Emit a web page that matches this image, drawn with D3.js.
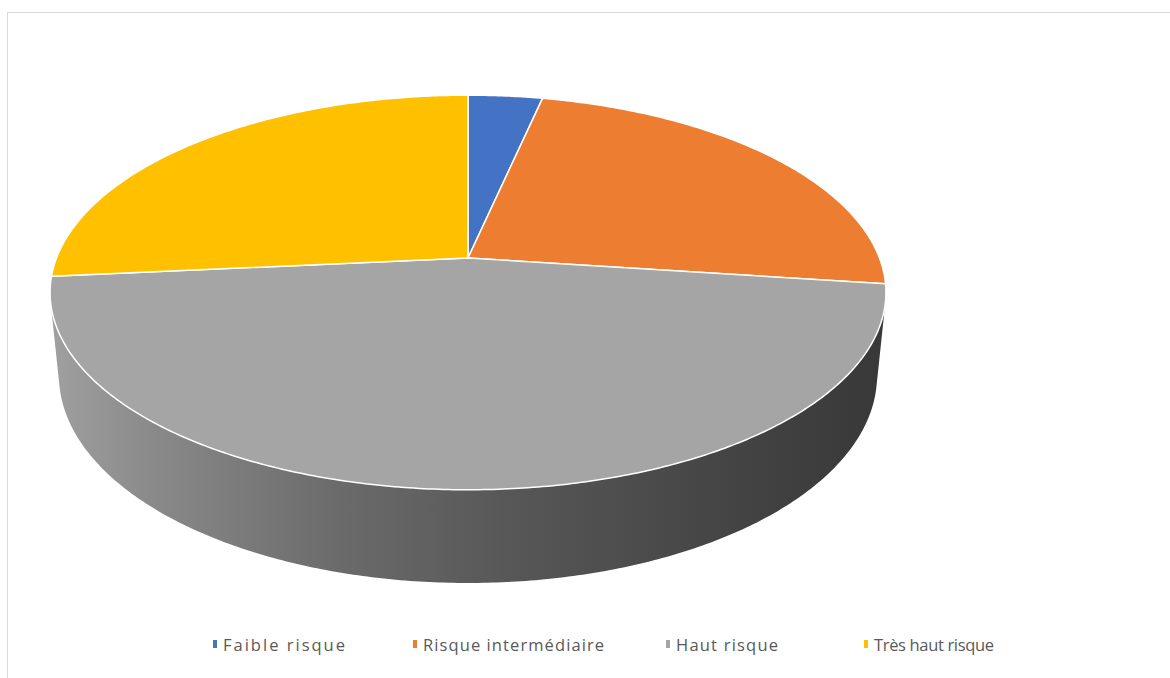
<!DOCTYPE html>
<html>
<head>
<meta charset="utf-8">
<script src="https://cdn.jsdelivr.net/npm/d3@7"></script>
<style>
  html, body { margin: 0; padding: 0; background: #fff; }
  svg { display: block; }
</style>
</head>
<body>
<svg id="chart" width="1170" height="678"></svg>
<script>
// Risk categories and their share (%)
const categories = ["Faible risque", "Risque intermédiaire", "Haut risque", "Très haut risque"];
const values = [3.4, 23.7, 46.4, 26.5];
const colors = ["#4472c4", "#ed7d31", "#a5a5a5", "#ffc000"];

const svg = d3.select("#chart");
const W = 1170, H = 678;

// chart frame
svg.append("rect")
  .attr("x", 7.5).attr("y", 12.5)
  .attr("width", W + 20).attr("height", H + 20)
  .attr("fill", "#fff").attr("stroke", "#d9d9d9").attr("stroke-width", 1);

// 3D perspective pie geometry
const cx = 468, cy = 258;     // projected pie centre
const K = 411.5;              // radius scale in px
const tilt = 27.7 * Math.PI / 180;
const sinA = Math.sin(tilt), cosA = Math.cos(tilt);
const camDist = 5.07;         // camera distance in radii
const thick = 0.23;           // disc thickness in radii

function proj(phi, r, h) {
  const u = r * Math.sin(phi), v = -r * Math.cos(phi);
  const Y = -h * thick;
  const yd = v * sinA - Y * cosA;
  const zd = v * cosA + Y * sinA;
  const s = camDist / (camDist - zd);
  return [cx + K * u * s, cy + K * yd * s];
}

const color = d3.scaleOrdinal().domain(categories).range(colors);
const pie = d3.pie().sort(null).value(d => d.value).startAngle(0).endAngle(2 * Math.PI);
const arcs = pie(categories.map((c, i) => ({ name: c, value: values[i] })));

const line = d3.line().curve(d3.curveLinear);

function rimPoints(a0, a1, h) {
  const n = Math.max(2, Math.ceil((a1 - a0) / 0.01));
  return d3.range(n + 1).map(i => proj(a0 + (a1 - a0) * i / n, 1, h));
}

// side wall gradient
const defs = svg.append("defs");
const grad = defs.append("linearGradient")
  .attr("id", "sideGrad").attr("gradientUnits", "userSpaceOnUse")
  .attr("x1", 50).attr("x2", 886).attr("y1", 0).attr("y2", 0);
[[0, "#a0a0a0"], [0.12, "#8a8a8a"], [0.35, "#6a6a6a"], [0.55, "#575757"], [0.8, "#454545"], [1, "#383838"]]
  .forEach(([o, c]) => grad.append("stop").attr("offset", o).attr("stop-color", c));

// visible range of the outer wall (facing camera)
const t = 1 / (camDist * cosA);
const visLo = Math.acos(-t), visHi = 2 * Math.PI - Math.acos(-t);

const sides = svg.append("g");
arcs.forEach(a => {
  const b0 = Math.max(a.startAngle, visLo), b1 = Math.min(a.endAngle, visHi);
  if (b1 <= b0) return;
  const top = rimPoints(b0, b1, 0);
  const bot = rimPoints(b0, b1, 1).reverse();
  sides.append("path")
    .attr("d", line(top.concat(bot)) + "Z")
    .attr("fill", a.data.name === "Haut risque" ? "url(#sideGrad)" : d3.color(color(a.data.name)).darker(1.2));
});

// top faces
const tops = svg.append("g");
arcs.forEach(a => {
  const pts = [proj(0, 0, 0)].concat(rimPoints(a.startAngle, a.endAngle, 0));
  tops.append("path")
    .attr("d", line(pts) + "Z")
    .attr("fill", color(a.data.name))
    .attr("stroke", "#fff").attr("stroke-width", 1.5)
    .attr("stroke-linejoin", "round");
});

// legend
const legendItems = [
  { x: 215, w: 122 },
  { x: 415, w: 181 },
  { x: 668, w: 102 },
  { x: 866, w: 120 }
];
const legend = svg.append("g").attr("font-family", "'Open Sans', sans-serif")
  .attr("font-size", 16.5).attr("fill", "#595959");
categories.forEach((c, i) => {
  const it = legendItems[i];
  legend.append("rect")
    .attr("x", it.x - 2).attr("y", 640).attr("width", 4).attr("height", 8)
    .attr("fill", color(c));
  legend.append("text")
    .attr("x", it.x + 8).attr("y", 651)
    .attr("textLength", it.w).attr("lengthAdjust", "spacing")
    .text(c);
});
</script>
</body>
</html>
